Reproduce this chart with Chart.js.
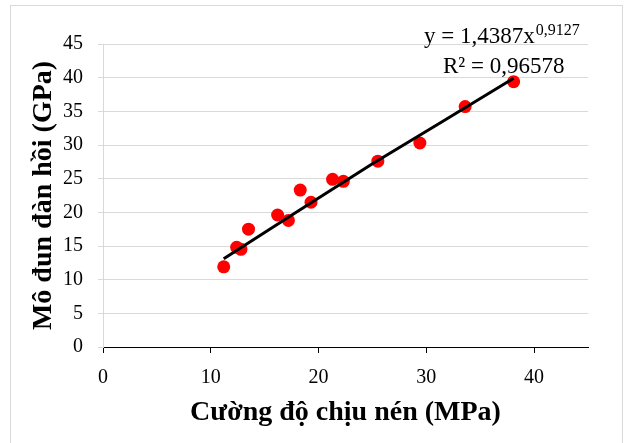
<!DOCTYPE html>
<html>
<head>
<meta charset="utf-8">
<script src="https://cdn.jsdelivr.net/npm/chart.js@4.4.1/dist/chart.umd.min.js"></script>
<style>
  html, body { margin: 0; padding: 0; background: #fff; }
  #wrap { position: relative; width: 627px; height: 443px; overflow: hidden; }
  #frame { position: absolute; left: 10px; top: 5px; width: 613px; height: 470px; border: 1px solid #d9d9d9; box-sizing: border-box; pointer-events: none; }
  canvas { position: absolute; left: 0; top: 0; }
</style>
</head>
<body>
<div id="wrap">
  <canvas id="chart" width="627" height="443"></canvas>
  <div id="frame"></div>
</div>
<script>
// Données
const strengthMPa = [11.2, 12.4, 12.8, 13.5, 16.2, 17.2, 18.3, 19.3, 21.3, 22.3, 25.5, 29.4, 33.6, 38.1];
const modulusGPa  = [11.9, 14.8, 14.5, 17.5, 19.6, 18.8, 23.3, 21.5, 24.9, 24.6, 27.6, 30.3, 35.7, 39.4];

// Courbe de tendance
const trendX = [11.2, 18, 25, 31.5, 38.1];
const trendY = [13.1, 20.1, 27.2, 33.5, 39.9];

const xTicks = [0, 10, 20, 30, 40];
const yTicks = [0, 5, 10, 15, 20, 25, 30, 35, 40, 45];

const serif = "'Liberation Serif', 'Times New Roman', serif";

// Texte de l'équation
const equationPlugin = {
  id: 'equation',
  afterDraw(chart) {
    const ctx = chart.ctx;
    ctx.save();
    ctx.fillStyle = '#000';
    ctx.textBaseline = 'alphabetic';
    ctx.textAlign = 'left';
    ctx.font = '23px ' + serif;
    const main = 'y = 1,4387x';
    ctx.fillText(main, 424, 43);
    const w = ctx.measureText(main).width;
    ctx.font = '16px ' + serif;
    ctx.fillText('0,9127', 424 + w + 1, 35);
    ctx.font = '23px ' + serif;
    ctx.fillText('R² = 0,96578', 443, 73);
    ctx.restore();
  }
};

new Chart(document.getElementById('chart'), {
  type: 'scatter',
  data: {
    datasets: [{
      data: trendX.map((x, i) => ({ x: x, y: trendY[i] })),
      showLine: true,
      borderColor: '#000',
      borderWidth: 3,
      pointRadius: 0,
      order: 0
    }, {
      data: strengthMPa.map((x, i) => ({ x: x, y: modulusGPa[i] })),
      backgroundColor: '#ff0000',
      borderWidth: 0,
      pointRadius: 6.5,
      order: 1
    }]
  },
  options: {
    responsive: false,
    animation: false,
    layout: { padding: { top: 44, right: 39, left: 0, bottom: 0 } },
    plugins: { legend: { display: false }, tooltip: { enabled: false } },
    scales: {
      x: {
        type: 'linear',
        min: 0, max: 45,
        afterBuildTicks: s => { s.ticks = xTicks.map(v => ({ value: v })); },
        afterFit: s => { s.height = 96; },
        grid: { drawOnChartArea: false, drawTicks: true, color: '#000', tickLength: 6 },
        border: { color: '#000', width: 1 },
        ticks: { color: '#000', font: { family: serif, size: 20 }, padding: 13, maxRotation: 0 },
        title: {
          display: true,
          text: 'Cường độ chịu nén (MPa)',
          color: '#000',
          font: { family: serif, size: 28, weight: 'bold' },
          padding: { top: 0, bottom: 13 }
        }
      },
      y: {
        type: 'linear',
        min: 0, max: 45,
        afterBuildTicks: s => { s.ticks = yTicks.map(v => ({ value: v })); },
        afterFit: s => { s.width = 103; },
        grid: { color: '#d9d9d9', drawTicks: true, tickLength: 5 },
        border: { color: '#d9d9d9', width: 1 },
        ticks: { color: '#000', font: { family: serif, size: 20 }, padding: 15 },
        title: {
          display: true,
          text: 'Mô đun đàn hồi (GPa)',
          color: '#000',
          font: { family: serif, size: 28, weight: 'bold' },
          padding: { top: 27, bottom: 0 }
        }
      }
    }
  },
  plugins: [equationPlugin]
});
</script>
</body>
</html>
